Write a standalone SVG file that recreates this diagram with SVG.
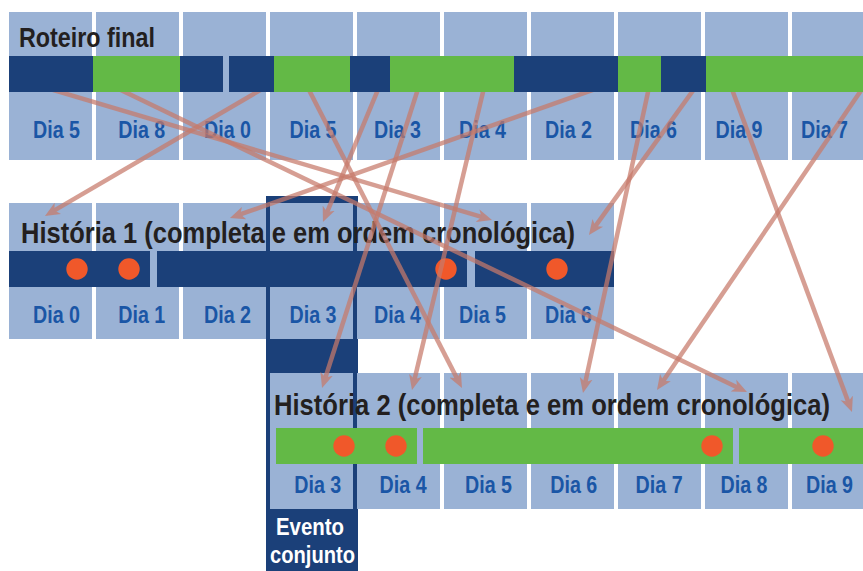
<svg xmlns="http://www.w3.org/2000/svg" width="863" height="571" viewBox="0 0 863 571">
<style>
.cell{fill:#9ab2d5}
.dk{fill:#1b4079}
.gr{fill:#63b946}
.dot{fill:#f0582a}
.ttl{font-family:"Liberation Sans",Arial,sans-serif;font-weight:bold;fill:#231f20}
.lbl{font-family:"Liberation Sans",Arial,sans-serif;font-weight:bold;font-size:24px;fill:#1a56a6}
.ev{font-family:"Liberation Sans",Arial,sans-serif;font-weight:bold;font-size:23px;fill:#ffffff}
.arr line{stroke:#c77a6a;stroke-width:4.5;fill:none}
.arr g{opacity:0.72}
</style>
<defs>
<marker id="ah" markerUnits="userSpaceOnUse" markerWidth="16" markerHeight="14" viewBox="0 -7 16 14" refX="5" refY="0" orient="auto">
<path d="M0,-6.5 L15,0 L0,6.5 L4,0 Z" fill="#c77a6a"/>
</marker>
<clipPath id="below"><rect x="0" y="92" width="863" height="479"/></clipPath>
</defs>
<rect width="863" height="571" fill="#ffffff"/>

<g id="evento">
<rect class="dk" x="266" y="196" width="92" height="375"/>
<text class="ev" x="276" y="535" textLength="68" lengthAdjust="spacingAndGlyphs">Evento</text>
<text class="ev" x="270" y="563" textLength="85" lengthAdjust="spacingAndGlyphs">conjunto</text>
</g>

<g id="roteiro">
<rect class="cell" x="9" y="12" width="83" height="148"/>
<rect class="cell" x="96" y="12" width="83" height="148"/>
<rect class="cell" x="183" y="12" width="83" height="148"/>
<rect class="cell" x="270" y="12" width="83" height="148"/>
<rect class="cell" x="357" y="12" width="83" height="148"/>
<rect class="cell" x="444" y="12" width="83" height="148"/>
<rect class="cell" x="531" y="12" width="83" height="148"/>
<rect class="cell" x="618" y="12" width="83" height="148"/>
<rect class="cell" x="705" y="12" width="83" height="148"/>
<rect class="cell" x="792" y="12" width="83" height="148"/>
<rect class="dk" x="9" y="56" width="84" height="36"/>
<rect class="gr" x="93" y="56" width="87" height="36"/>
<rect class="dk" x="180" y="56" width="43" height="36"/>
<rect class="dk" x="229" y="56" width="45" height="36"/>
<rect class="gr" x="274" y="56" width="76" height="36"/>
<rect class="dk" x="350" y="56" width="40" height="36"/>
<rect class="gr" x="390" y="56" width="124" height="36"/>
<rect class="dk" x="514" y="56" width="104" height="36"/>
<rect class="gr" x="618" y="56" width="43" height="36"/>
<rect class="dk" x="661" y="56" width="45" height="36"/>
<rect class="gr" x="706" y="56" width="157" height="36"/>
<text class="ttl" x="19" y="46.5" font-size="28" textLength="136" lengthAdjust="spacingAndGlyphs">Roteiro final</text>
<text class="lbl" x="33" y="138.3" textLength="47" lengthAdjust="spacingAndGlyphs">Dia 5</text>
<text class="lbl" x="118.3" y="138.3" textLength="47" lengthAdjust="spacingAndGlyphs">Dia 8</text>
<text class="lbl" x="204" y="138.3" textLength="47" lengthAdjust="spacingAndGlyphs">Dia 0</text>
<text class="lbl" x="289.5" y="138.3" textLength="47" lengthAdjust="spacingAndGlyphs">Dia 5</text>
<text class="lbl" x="374" y="138.3" textLength="47" lengthAdjust="spacingAndGlyphs">Dia 3</text>
<text class="lbl" x="459" y="138.3" textLength="47" lengthAdjust="spacingAndGlyphs">Dia 4</text>
<text class="lbl" x="545" y="138.3" textLength="47" lengthAdjust="spacingAndGlyphs">Dia 2</text>
<text class="lbl" x="630" y="138.3" textLength="47" lengthAdjust="spacingAndGlyphs">Dia 6</text>
<text class="lbl" x="715.5" y="138.3" textLength="47" lengthAdjust="spacingAndGlyphs">Dia 9</text>
<text class="lbl" x="801" y="138.3" textLength="47" lengthAdjust="spacingAndGlyphs">Dia 7</text>
</g>

<g id="historia1">
<rect class="cell" x="9" y="203" width="83" height="136"/>
<rect class="cell" x="96" y="203" width="83" height="136"/>
<rect class="cell" x="183" y="203" width="83" height="136"/>
<rect class="cell" x="270" y="203" width="83" height="136"/>
<rect class="cell" x="357" y="203" width="83" height="136"/>
<rect class="cell" x="444" y="203" width="83" height="136"/>
<rect class="cell" x="531" y="203" width="83" height="136"/>
<rect class="dk" x="9" y="251" width="141" height="36"/>
<rect class="dk" x="157" y="251" width="310" height="36"/>
<rect class="dk" x="475" y="251" width="139" height="36"/>
<circle class="dot" cx="77" cy="269" r="10.7"/>
<circle class="dot" cx="129" cy="269" r="10.7"/>
<circle class="dot" cx="446" cy="269" r="10.7"/>
<circle class="dot" cx="557" cy="269" r="10.7"/>
<text class="ttl" x="21" y="243" font-size="29" textLength="554" lengthAdjust="spacingAndGlyphs">História 1 (completa e em ordem cronológica)</text>
<text class="lbl" x="33" y="323.3" textLength="47" lengthAdjust="spacingAndGlyphs">Dia 0</text>
<text class="lbl" x="118.3" y="323.3" textLength="47" lengthAdjust="spacingAndGlyphs">Dia 1</text>
<text class="lbl" x="204" y="323.3" textLength="47" lengthAdjust="spacingAndGlyphs">Dia 2</text>
<text class="lbl" x="289.5" y="323.3" textLength="47" lengthAdjust="spacingAndGlyphs">Dia 3</text>
<text class="lbl" x="374" y="323.3" textLength="47" lengthAdjust="spacingAndGlyphs">Dia 4</text>
<text class="lbl" x="459" y="323.3" textLength="47" lengthAdjust="spacingAndGlyphs">Dia 5</text>
<text class="lbl" x="545" y="323.3" textLength="47" lengthAdjust="spacingAndGlyphs">Dia 6</text>
</g>

<g id="historia2">
<rect class="cell" x="270" y="373" width="83" height="136"/>
<rect class="cell" x="357" y="373" width="83" height="136"/>
<rect class="cell" x="444" y="373" width="83" height="136"/>
<rect class="cell" x="531" y="373" width="83" height="136"/>
<rect class="cell" x="618" y="373" width="83" height="136"/>
<rect class="cell" x="705" y="373" width="83" height="136"/>
<rect class="cell" x="792" y="373" width="83" height="136"/>
<rect class="gr" x="276" y="428" width="141" height="36"/>
<rect class="gr" x="423" y="428" width="310" height="36"/>
<rect class="gr" x="739" y="428" width="124" height="36"/>
<circle class="dot" cx="344" cy="446" r="10.7"/>
<circle class="dot" cx="396" cy="446" r="10.7"/>
<circle class="dot" cx="712" cy="446" r="10.7"/>
<circle class="dot" cx="823" cy="446" r="10.7"/>
<text class="ttl" x="274" y="415" font-size="29" textLength="556" lengthAdjust="spacingAndGlyphs">História 2 (completa e em ordem cronológica)</text>
<text class="lbl" x="294.3" y="493.3" textLength="47" lengthAdjust="spacingAndGlyphs">Dia 3</text>
<text class="lbl" x="379.6" y="493.3" textLength="47" lengthAdjust="spacingAndGlyphs">Dia 4</text>
<text class="lbl" x="465" y="493.3" textLength="47" lengthAdjust="spacingAndGlyphs">Dia 5</text>
<text class="lbl" x="550.3" y="493.3" textLength="47" lengthAdjust="spacingAndGlyphs">Dia 6</text>
<text class="lbl" x="635.6" y="493.3" textLength="47" lengthAdjust="spacingAndGlyphs">Dia 7</text>
<text class="lbl" x="720.5" y="493.3" textLength="47" lengthAdjust="spacingAndGlyphs">Dia 8</text>
<text class="lbl" x="806" y="493.3" textLength="47" lengthAdjust="spacingAndGlyphs">Dia 9</text>
</g>

<g id="connectors" class="arr" clip-path="url(#below)">
<g><line x1="39.75" y1="86" x2="482.4" y2="217.2" marker-end="url(#ah)"/></g>
<g><line x1="112.56" y1="86" x2="738.0" y2="387.7" marker-end="url(#ah)"/></g>
<g><line x1="267.26" y1="86" x2="53.6" y2="210.9" marker-end="url(#ah)"/></g>
<g><line x1="306.92" y1="86" x2="457.4" y2="379.1" marker-end="url(#ah)"/></g>
<g><line x1="379.49" y1="86" x2="326.8" y2="212.8" marker-end="url(#ah)"/></g>
<g><line x1="418.93" y1="86" x2="325.1" y2="378.5" marker-end="url(#ah)"/></g>
<g><line x1="484.43" y1="86" x2="414.3" y2="380.3" marker-end="url(#ah)"/></g>
<g><line x1="604" y1="86" x2="239.4" y2="214.7" marker-end="url(#ah)"/></g>
<g><line x1="649.3" y1="86" x2="585.1" y2="383.2" marker-end="url(#ah)"/></g>
<g><line x1="696.32" y1="86" x2="594.8" y2="226.9" marker-end="url(#ah)"/></g>
<g><line x1="730.77" y1="86" x2="848.5" y2="402.6" marker-end="url(#ah)"/></g>
<g><line x1="864.09" y1="86" x2="662.6" y2="381.7" marker-end="url(#ah)"/></g>
</g>
</svg>
